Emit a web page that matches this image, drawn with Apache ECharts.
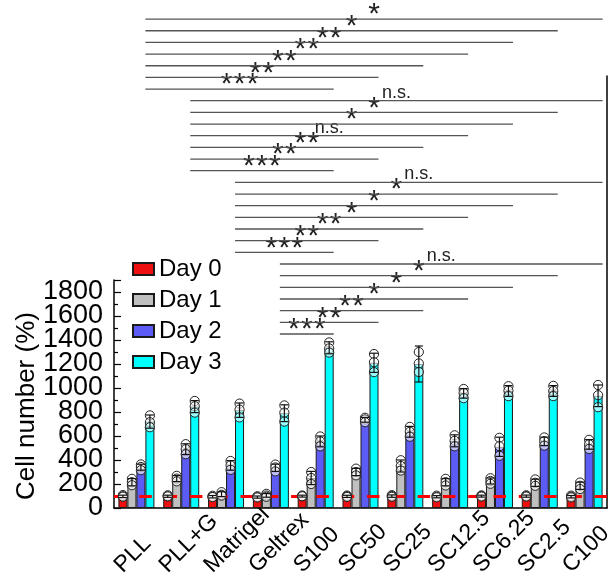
<!DOCTYPE html>
<html>
<head>
<meta charset="utf-8">
<script src="https://cdn.jsdelivr.net/npm/echarts@6/dist/echarts.min.js"></script>
<style>
  html, body { margin: 0; padding: 0; background: #fff; }
  #chart { width: 610px; height: 582px; }
</style>
</head>
<body>
<div id="chart"></div>
<script>
// Substrate conditions along the x axis
const categories = ['PLL', 'PLL+G', 'Matrigel', 'Geltrex', 'S100', 'SC50', 'SC25', 'SC12.5', 'SC6.25', 'SC2.5', 'C100'];
const dayNames = ['Day 0', 'Day 1', 'Day 2', 'Day 3'];

// Mean cell number (% of Day 0)
const day0 = [97, 98, 94, 91, 99, 97, 99, 94, 99, 99, 94];
const day1 = [215, 245, 115, 105, 250, 300, 350, 215, 225, 210, 185];
const day2 = [340, 490, 355, 335, 555, 735, 635, 560, 510, 555, 530];
const day3 = [720, 845, 815, 790, 1335, 1210, 1200, 955, 975, 975, 935];

// Error bar half-lengths
const day0Err = [10, 9, 10, 9, 8, 9, 10, 9, 8, 9, 10];
const day1Err = [30, 25, 20, 15, 55, 30, 50, 30, 25, 30, 30];
const day2Err = [25, 45, 40, 30, 45, 20, 45, 50, 80, 35, 40];
const day3Err = [55, 50, 60, 70, 50, 80, 150, 40, 45, 45, 90];

// Individual replicate measurements
const day0Reps = [[108, 98, 94], [106, 97, 97], [102, 92, 91], [98, 90, 88], [104, 98, 98], [104, 98, 92], [107, 100, 93], [103, 93, 89], [105, 100, 95], [106, 99, 95], [103, 94, 88]];
const day1Reps = [[243, 215, 190], [268, 245, 222], [132, 110, 103], [118, 104, 93], [300, 250, 200], [328, 300, 272], [398, 350, 312], [243, 215, 188], [248, 225, 202], [238, 210, 185], [212, 185, 158]];
const day2Reps = [[363, 342, 315], [532, 490, 448], [392, 355, 318], [362, 338, 305], [596, 555, 514], [752, 738, 715], [676, 635, 594], [606, 560, 514], [585, 515, 435], [588, 557, 520], [568, 530, 492]];
const day3Reps = [[772, 715, 673], [892, 848, 795], [870, 820, 755], [855, 795, 720], [1380, 1330, 1295], [1283, 1215, 1132], [1300, 1205, 1133], [992, 958, 915], [1015, 978, 932], [1018, 975, 932], [1025, 940, 840]];

// Significance of Day 3 comparisons against S100, SC50, SC25, SC12.5, SC6.25, SC2.5, C100
const sigTargets = [4, 5, 6, 7, 8, 9, 10];
const sigPLL = ['***', '**', '**', '**', '**', '*', '*'];
const sigPLLG = ['***', '**', '**', 'n.s.', '*', '*', 'n.s.'];
const sigMatrigel = ['***', '**', '**', '*', '*', '*', 'n.s.'];
const sigGeltrex = ['***', '**', '**', '*', '*', '*', 'n.s.'];

const baseline = 100;

// ---- layout / style ----
const FONT = 'Liberation Sans, Arial, sans-serif';
const BAR_W = 9;
const COLORS = ['#ee1010', '#c0c0c0', '#5c5cf4', '#00ffff'];
const BRACKET_BASE = 1450;   // value level of the lowest comparison line
const BRACKET_STEP = 97.2;   // value spacing between comparison lines

const means = [day0, day1, day2, day3];
const errs = [day0Err, day1Err, day2Err, day3Err];
const reps = [day0Reps, day1Reps, day2Reps, day3Reps];

// comparison rows, bottom to top: Geltrex set, Matrigel set, PLL+G set, PLL set
const sigSets = [[3, sigGeltrex], [2, sigMatrigel], [1, sigPLLG], [0, sigPLL]];
const sigRows = [];
sigSets.forEach(function (set, s) {
  set[1].forEach(function (label, t) {
    sigRows.push({ ref: set[0], tgt: sigTargets[t], row: s * 7 + t, label: label });
  });
});

function errorSeries(d) {
  return {
    type: 'custom',
    name: dayNames[d] + ' replicates',
    xAxisIndex: 0, yAxisIndex: 0,
    z: 5,
    clip: false,
    encode: { x: 0, y: 1 },
    data: means[d].map(function (m, i) {
      return [i, m, errs[d][i]].concat(reps[d][i]);
    }),
    renderItem: function (params, api) {
      const i = api.value(0);
      const m = api.value(1), e = api.value(2);
      const x = api.coord([i, 0])[0] + (d - 1.5) * BAR_W;
      const yTop = api.coord([i, m + e])[1];
      const yBot = api.coord([i, m - e])[1];
      const children = [];
      for (let k = 3; k < 6; k++) {
        const yc = api.coord([i, api.value(k)])[1];
        children.push({
          type: 'circle',
          shape: { cx: x, cy: yc, r: 4.6 },
          style: { fill: 'rgba(255,255,255,0.6)', stroke: '#222', lineWidth: 1 }
        });
      }
      const ls = { stroke: '#111', lineWidth: 1.2 };
      children.push({ type: 'line', shape: { x1: x, y1: yTop, x2: x, y2: yBot }, style: ls });
      children.push({ type: 'line', shape: { x1: x - 4, y1: yTop, x2: x + 4, y2: yTop }, style: ls });
      children.push({ type: 'line', shape: { x1: x - 4, y1: yBot, x2: x + 4, y2: yBot }, style: ls });
      return { type: 'group', children: children };
    }
  };
}

const bracketSeries = {
  type: 'custom',
  name: 'significance',
  xAxisIndex: 0, yAxisIndex: 0,
  z: 6,
  clip: false,
  encode: { x: 0, y: 2 },
  data: sigRows.map(function (r) { return [r.ref, r.tgt, r.row]; }),
  renderItem: function (params, api) {
    const ref = api.value(0), tgt = api.value(1), row = api.value(2);
    const off = 1.5 * BAR_W;
    const xa = api.coord([ref, 0])[0] + off - BAR_W / 2;
    const xb = api.coord([tgt, 0])[0] + off + BAR_W / 2;
    const y = api.coord([0, BRACKET_BASE + row * BRACKET_STEP])[1];
    const label = sigRows[params.dataIndex].label;
    const mid = (xa + xb) / 2;
    const children = [{
      type: 'line',
      shape: { x1: xa, y1: y, x2: xb, y2: y },
      style: { stroke: '#555', lineWidth: 1.3 }
    }];
    if (label === 'n.s.') {
      children.push({
        type: 'text', x: mid, y: y + 1,
        style: { text: 'n.s.', fontSize: 18, fontFamily: FONT, fill: '#222', align: 'center', verticalAlign: 'bottom' }
      });
    } else {
      const n = label.length;
      for (let j = 0; j < n; j++) {
        children.push({
          type: 'text', x: mid + (j - (n - 1) / 2) * 13, y: y + 11,
          style: { text: '*', fontSize: 30, fontFamily: FONT, fill: '#222', align: 'center', verticalAlign: 'bottom' }
        });
      }
    }
    return { type: 'group', children: children };
  }
};

const barSeries = dayNames.map(function (name, d) {
  return {
    type: 'bar',
    name: name,
    xAxisIndex: 0, yAxisIndex: 0,
    data: means[d],
    barWidth: BAR_W,
    barGap: '0%',
    z: 2,
    itemStyle: { color: COLORS[d], borderColor: '#1a1a1a', borderWidth: 1 }
  };
});

const baselineSeries = {
  type: 'line',
  name: 'baseline',
  xAxisIndex: 0, yAxisIndex: 0,
  data: [],
  z: 20,
  markLine: {
    silent: true,
    symbol: 'none',
    label: { show: false },
    lineStyle: { color: '#ff0000', width: 3, type: [12.5, 12.8], opacity: 1 },
    data: [{ yAxis: baseline }]
  }
};

const GRID_SIDES = { left: 114, right: 3, outerBoundsMode: 'none', containLabel: false };

const chart = echarts.init(document.getElementById('chart'), null, { renderer: 'canvas' });
chart.setOption({
  animation: false,
  backgroundColor: '#fff',
  textStyle: { fontFamily: FONT },
  legend: {
    data: dayNames,
    orient: 'vertical',
    left: 127, top: 252,
    itemWidth: 21, itemHeight: 12,
    itemGap: 7,
    icon: 'rect',
    textStyle: { fontSize: 24, fontFamily: FONT, color: '#000', lineHeight: 24 }
  },
  grid: [
    // plotting grid (value range -200..1900, zero sits on the x axis)
    Object.assign({ top: 280, bottom: 50 }, GRID_SIDES),
    // tall frame for the right-hand border
    Object.assign({ top: 76, bottom: 74 }, GRID_SIDES),
    // left axis line with ticks (0..1900)
    Object.assign({ top: 280, bottom: 74 }, GRID_SIDES)
  ],
  xAxis: [
    {
      type: 'category', gridIndex: 0, data: categories,
      axisLine: { show: true, onZero: true, lineStyle: { color: '#000', width: 1.5 } },
      axisTick: { show: false },
      axisLabel: {
        rotate: 45, fontSize: 23, fontFamily: FONT, color: '#000',
        align: 'left', verticalAlign: 'bottom', padding: [0, 0, 14, 0],
        margin: 55, interval: 0
      }
    },
    { type: 'category', gridIndex: 1, data: categories, show: false },
    { type: 'category', gridIndex: 2, data: categories, show: false }
  ],
  yAxis: [
    {
      type: 'value', gridIndex: 0, min: -200, max: 1900, interval: 200,
      name: 'Cell number (%)', nameLocation: 'middle', nameGap: 74, nameMoveOverlap: false,
      nameTextStyle: { fontSize: 26, fontFamily: FONT, color: '#000' },
      axisLine: { show: false },
      axisTick: { show: false },
      axisLabel: {
        fontSize: 27, fontFamily: FONT, color: '#000', margin: 11,
        showMinLabel: false, showMaxLabel: false,
        formatter: function (v) { return (v < 0 || v > 1800) ? '' : String(v); }
      },
      splitLine: { show: false }
    },
    {
      type: 'value', gridIndex: 1, position: 'right', min: 0, max: 1,
      axisLine: { show: true, lineStyle: { color: '#000', width: 1.5 } },
      axisTick: { show: false }, axisLabel: { show: false }, splitLine: { show: false }
    },
    {
      type: 'value', gridIndex: 2, position: 'left', min: 0, max: 1900, interval: 200,
      axisLine: { show: true, lineStyle: { color: '#000', width: 1.5 } },
      axisTick: { show: true, inside: true, length: 7, lineStyle: { color: '#000', width: 1.2 } },
      minorTick: { show: true, splitNumber: 2, length: 4, lineStyle: { color: '#000', width: 1.2 } },
      axisLabel: { show: false },
      splitLine: { show: false }
    }
  ],
  series: barSeries.concat([0, 1, 2, 3].map(errorSeries), [bracketSeries, baselineSeries])
});
</script>
</body>
</html>
